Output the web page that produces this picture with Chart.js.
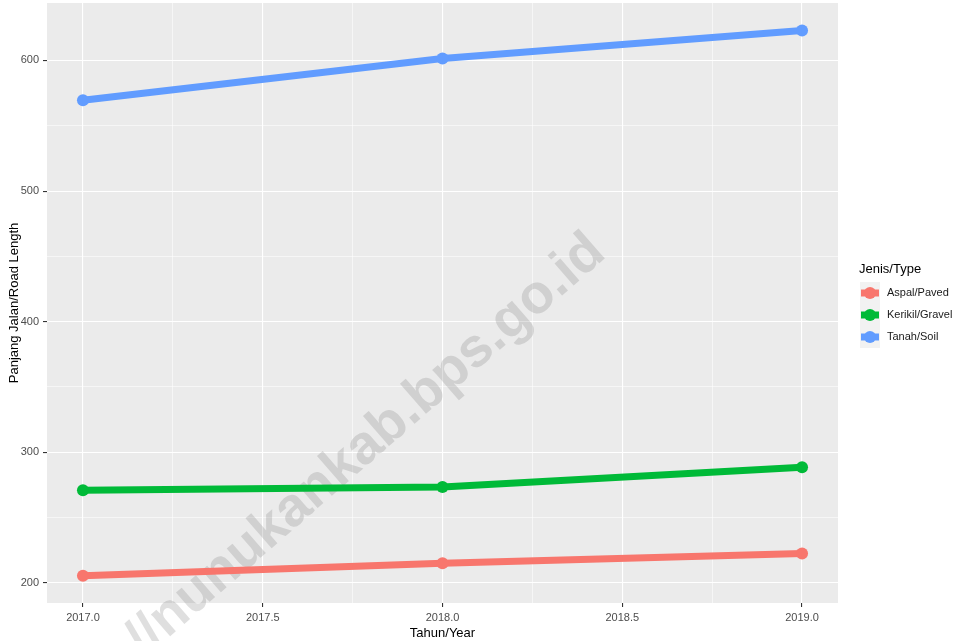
<!DOCTYPE html>
<html>
<head>
<meta charset="utf-8">
<script src="https://cdn.jsdelivr.net/npm/chart.js@4.4.1/dist/chart.umd.min.js"></script>
<style>
  html, body { margin: 0; padding: 0; background: #ffffff; }
  #wrap { width: 964px; height: 641px; position: relative; }
</style>
</head>
<body>
<div id="wrap"><canvas id="roadChart" width="964" height="641"></canvas></div>
<script>
// data
const years = [2017, 2018, 2019];
const seriesNames = ['Aspal/Paved', 'Kerikil/Gravel', 'Tanah/Soil'];
const aspal = [205.5, 215, 222.5];
const kerikil = [271, 273.5, 288.5];
const tanah = [569.5, 601.5, 623];
const seriesColors = ['#F8766D', '#00BA38', '#619CFF'];
const xTickValues = [2017, 2017.25, 2017.5, 2017.75, 2018, 2018.25, 2018.5, 2018.75, 2019];
const yTickValues = [200, 250, 300, 350, 400, 450, 500, 550, 600];

const FONT = "'Liberation Sans', Arial, sans-serif";
const PANEL_BG = '#EBEBEB';

const isMajorX = v => Math.abs(v * 2 - Math.round(v * 2)) < 1e-6;
const isMajorY = v => v % 100 === 0;

// grey panel behind the grid
const panelBg = {
  id: 'panelBg',
  beforeDraw(chart) {
    const { ctx, chartArea: a } = chart;
    ctx.save();
    ctx.fillStyle = PANEL_BG;
    ctx.fillRect(a.left, a.top, a.right - a.left, a.bottom - a.top);
    ctx.restore();
  }
};

// diagonal watermark text
const watermark = {
  id: 'watermark',
  beforeDatasetsDraw(chart) {
    const ctx = chart.ctx;
    ctx.save();
    ctx.translate(366, 446);
    ctx.rotate(-41 * Math.PI / 180);
    ctx.font = "bold 55px " + FONT;
    ctx.fillStyle = 'rgba(128,128,128,0.25)';
    ctx.textAlign = 'center';
    ctx.textBaseline = 'middle';
    ctx.fillText('//nunukankab.bps.go.id', 0, 0);
    ctx.restore();
  }
};

// ggplot style legend on the right
const sideLegend = {
  id: 'sideLegend',
  afterDraw(chart) {
    const ctx = chart.ctx;
    ctx.save();
    ctx.fillStyle = '#000000';
    ctx.font = "13px " + FONT;
    ctx.textBaseline = 'middle';
    ctx.fillText('Jenis/Type', 859, 269);
    chart.data.datasets.forEach((ds, i) => {
      const top = 282 + i * 22;
      ctx.fillStyle = '#F2F2F2';
      ctx.fillRect(860, top, 20, 22);
      const cy = top + 11;
      ctx.strokeStyle = ds.borderColor;
      ctx.lineWidth = 7;
      ctx.beginPath();
      ctx.moveTo(861, cy);
      ctx.lineTo(879, cy);
      ctx.stroke();
      ctx.fillStyle = ds.borderColor;
      ctx.beginPath();
      ctx.arc(870, cy, 6, 0, Math.PI * 2);
      ctx.fill();
      ctx.fillStyle = '#1A1A1A';
      ctx.font = "11px " + FONT;
      ctx.fillText(ds.label, 887, cy);
    });
    ctx.restore();
  }
};

const makeSet = (label, values, color) => ({
  label: label,
  data: years.map((y, i) => ({ x: y, y: values[i] })),
  borderColor: color,
  backgroundColor: color,
  borderWidth: 7,
  pointRadius: 6,
  pointHoverRadius: 6,
  pointBorderWidth: 0,
  tension: 0
});

const ctx = document.getElementById('roadChart').getContext('2d');
new Chart(ctx, {
  type: 'line',
  data: {
    datasets: [
      makeSet(seriesNames[0], aspal, seriesColors[0]),
      makeSet(seriesNames[1], kerikil, seriesColors[1]),
      makeSet(seriesNames[2], tanah, seriesColors[2])
    ]
  },
  options: {
    responsive: false,
    animation: false,
    layout: { autoPadding: false, padding: { top: 3, right: 126, left: 0, bottom: 0 } },
    plugins: {
      legend: { display: false },
      tooltip: { enabled: false }
    },
    scales: {
      x: {
        type: 'linear',
        min: 2016.9,
        max: 2019.1,
        afterBuildTicks: s => { s.ticks = xTickValues.map(v => ({ value: v })); },
        afterFit: s => { s.height = 38; s.paddingLeft = 0; s.paddingRight = 0; },
        border: { display: false },
        grid: {
          color: '#FFFFFF',
          lineWidth: c => isMajorX(c.tick.value) ? 1.1 : 0.55,
          tickColor: c => isMajorX(c.tick.value) ? '#333333' : 'rgba(0,0,0,0)',
          tickLength: 4
        },
        ticks: {
          autoSkip: false,
          maxRotation: 0,
          padding: 4,
          color: '#4D4D4D',
          font: { family: FONT, size: 11 },
          callback: v => isMajorX(v) ? v.toFixed(1) : ''
        },
        title: {
          display: true,
          text: 'Tahun/Year',
          color: '#000000',
          font: { family: FONT, size: 13 },
          padding: { top: 0, bottom: 0 }
        }
      },
      y: {
        type: 'linear',
        min: 184.6,
        max: 644,
        afterBuildTicks: s => { s.ticks = yTickValues.map(v => ({ value: v })); },
        afterFit: s => { s.width = 47; s.paddingTop = 0; s.paddingBottom = 0; },
        border: { display: false },
        grid: {
          color: '#FFFFFF',
          lineWidth: c => isMajorY(c.tick.value) ? 1.1 : 0.55,
          tickColor: c => isMajorY(c.tick.value) ? '#333333' : 'rgba(0,0,0,0)',
          tickLength: 4
        },
        ticks: {
          autoSkip: false,
          padding: 4,
          color: '#4D4D4D',
          font: { family: FONT, size: 11 },
          callback: v => isMajorY(v) ? String(v) : ''
        },
        title: {
          display: true,
          text: 'Panjang Jalan/Road Length',
          color: '#000000',
          font: { family: FONT, size: 13 },
          padding: { top: 7, bottom: 0 }
        }
      }
    }
  },
  plugins: [panelBg, watermark, sideLegend]
});
</script>
</body>
</html>
